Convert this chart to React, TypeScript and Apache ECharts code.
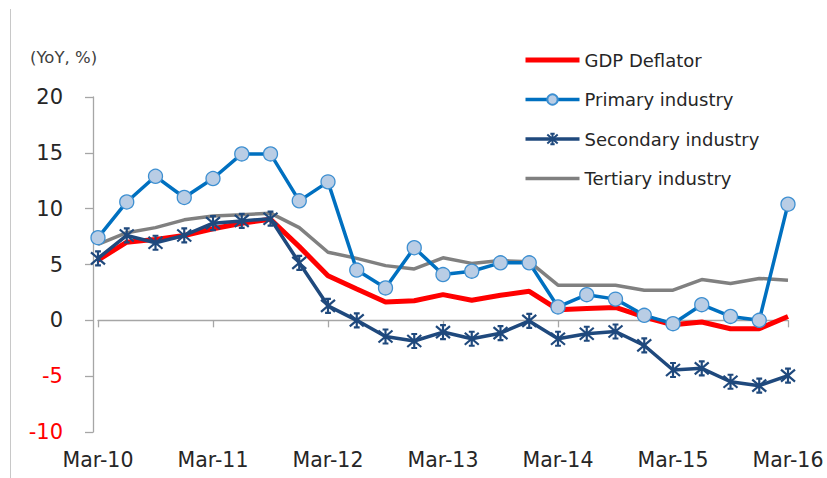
import React, { useEffect, useRef } from "react";
import * as echarts from "echarts";

const categories = [
  "Mar-10", "Jun-10", "Sep-10", "Dec-10",
  "Mar-11", "Jun-11", "Sep-11", "Dec-11",
  "Mar-12", "Jun-12", "Sep-12", "Dec-12",
  "Mar-13", "Jun-13", "Sep-13", "Dec-13",
  "Mar-14", "Jun-14", "Sep-14", "Dec-14",
  "Mar-15", "Jun-15", "Sep-15", "Dec-15",
  "Mar-16",
];

const gdpDeflator = [
  5.4, 7.0, 7.25, 7.6, 8.2, 8.7, 9.05, 6.6, 4.0, 2.8, 1.65, 1.75, 2.3,
  1.8, 2.25, 2.6, 0.95, 1.05, 1.15, 0.3, -0.4, -0.15, -0.75, -0.75, 0.35,
];
const primaryIndustry = [
  7.4, 10.6, 12.9, 11.0, 12.7, 14.9, 14.9, 10.7, 12.4, 4.5, 2.9, 6.5, 4.1,
  4.4, 5.15, 5.15, 1.2, 2.3, 1.9, 0.45, -0.3, 1.4, 0.35, 0.0, 10.4,
];
const secondaryIndustry = [
  5.55, 7.6, 6.95, 7.6, 8.7, 8.9, 9.1, 5.15, 1.3, 0.0, -1.45, -1.85, -1.05,
  -1.65, -1.15, -0.05, -1.65, -1.2, -1.0, -2.25, -4.45, -4.3, -5.5, -5.85, -4.95,
];
const tertiaryIndustry = [
  6.8, 7.85, 8.3, 9.0, 9.35, 9.45, 9.6, 8.3, 6.1, 5.55, 4.9, 4.6, 5.6,
  5.1, 5.35, 5.25, 3.15, 3.15, 3.15, 2.7, 2.7, 3.65, 3.3, 3.75, 3.6,
];

const yTicks = { min: -10, max: 20, interval: 5 };

const FONT = "DejaVu Sans";
const STAR =
  "path://M7,0 L7,14 M1,1 L13,13 M1,13 L13,1 M4.5,0 L9.5,0 M4.5,14 L9.5,14";

export default function App() {
  const ref = useRef<HTMLDivElement>(null);

  useEffect(() => {
    if (!ref.current) return;
    const chart = echarts.init(ref.current, undefined, { renderer: "svg" });
    chart.setOption({
      animation: false,
      backgroundColor: "#ffffff",
      textStyle: { fontFamily: FONT },
      grid: { left: 98, right: 39, top: 97, bottom: 46 },
      graphic: [
        {
          type: "line",
          shape: { x1: 10.5, y1: 9, x2: 10.5, y2: 478 },
          style: { stroke: "#c8c8c8", lineWidth: 1 },
          silent: true,
        },
        {
          type: "text",
          left: 30,
          top: 49,
          style: {
            text: "(YoY, %)",
            fontFamily: FONT,
            fontSize: 16.5,
            fill: "#404040",
          },
          silent: true,
        },
      ],
      legend: {
        orient: "vertical",
        left: 518,
        top: 46,
        itemWidth: 54,
        itemHeight: 13,
        itemGap: 21.5,
        textStyle: { fontFamily: FONT, fontSize: 18, color: "#262626" },
        data: [
          { name: "GDP Deflator", itemStyle: { opacity: 0 }, lineStyle: { width: 5, color: "#ff0000" } },
          { name: "Primary industry", lineStyle: { width: 3.5, color: "#0070c0" } },
          { name: "Secondary industry", lineStyle: { width: 3.5, color: "#1f497d" } },
          { name: "Tertiary industry", itemStyle: { opacity: 0 }, lineStyle: { width: 3.5, color: "#808080" } },
        ],
      },
      xAxis: [
        {
          type: "category",
          data: categories,
          boundaryGap: false,
          axisLine: { onZero: true, lineStyle: { color: "#a6a6a6", width: 1.3 } },
          axisTick: { show: true, interval: 3, length: 7, lineStyle: { color: "#a6a6a6", width: 1.3 } },
          axisLabel: { show: false },
          splitLine: { show: false },
        },
        {
          type: "category",
          data: categories,
          boundaryGap: false,
          position: "bottom",
          axisLine: { show: false, onZero: false },
          axisTick: { show: false },
          axisLabel: {
            show: true,
            interval: 3,
            margin: 17,
            fontFamily: FONT,
            fontSize: 20.5,
            color: "#262626",
          },
          splitLine: { show: false },
        },
      ],
      yAxis: {
        type: "value",
        min: yTicks.min,
        max: yTicks.max,
        interval: yTicks.interval,
        offset: 5,
        axisLine: { show: true, lineStyle: { color: "#a6a6a6", width: 1.3 } },
        axisTick: { show: true, length: 8, lineStyle: { color: "#a6a6a6", width: 1.3 } },
        splitLine: { show: false },
        axisLabel: {
          margin: 30,
          fontFamily: FONT,
          fontSize: 21,
          color: (v: any) => (Number(v) < 0 ? "#ff0000" : "#262626"),
        },
      },
      series: [
        {
          name: "Tertiary industry",
          type: "line",
          data: tertiaryIndustry,
          symbol: "none",
          lineStyle: { color: "#808080", width: 3.5 },
          itemStyle: { color: "#808080" },
          z: 2,
        },
        {
          name: "GDP Deflator",
          type: "line",
          data: gdpDeflator,
          symbol: "none",
          lineStyle: { color: "#ff0000", width: 5 },
          itemStyle: { color: "#ff0000" },
          z: 3,
        },
        {
          name: "Secondary industry",
          type: "line",
          data: secondaryIndustry,
          symbol: STAR,
          symbolSize: 14,
          showAllSymbol: true,
          lineStyle: { color: "#1f497d", width: 3.5 },
          itemStyle: { color: "none", borderColor: "#1f497d", borderWidth: 2.2 },
          z: 4,
        },
        {
          name: "Primary industry",
          type: "line",
          data: primaryIndustry,
          symbol: "circle",
          symbolSize: 14,
          showAllSymbol: true,
          lineStyle: { color: "#0070c0", width: 3.5 },
          itemStyle: { color: "#b9cde5", borderColor: "#3d8fd1", borderWidth: 1.3 },
          z: 5,
        },
      ],
    });
    return () => chart.dispose();
  }, []);

  return (
    <div
      ref={ref}
      style={{ position: "absolute", left: 0, top: 0, width: 827, height: 478 }}
    />
  );
}
